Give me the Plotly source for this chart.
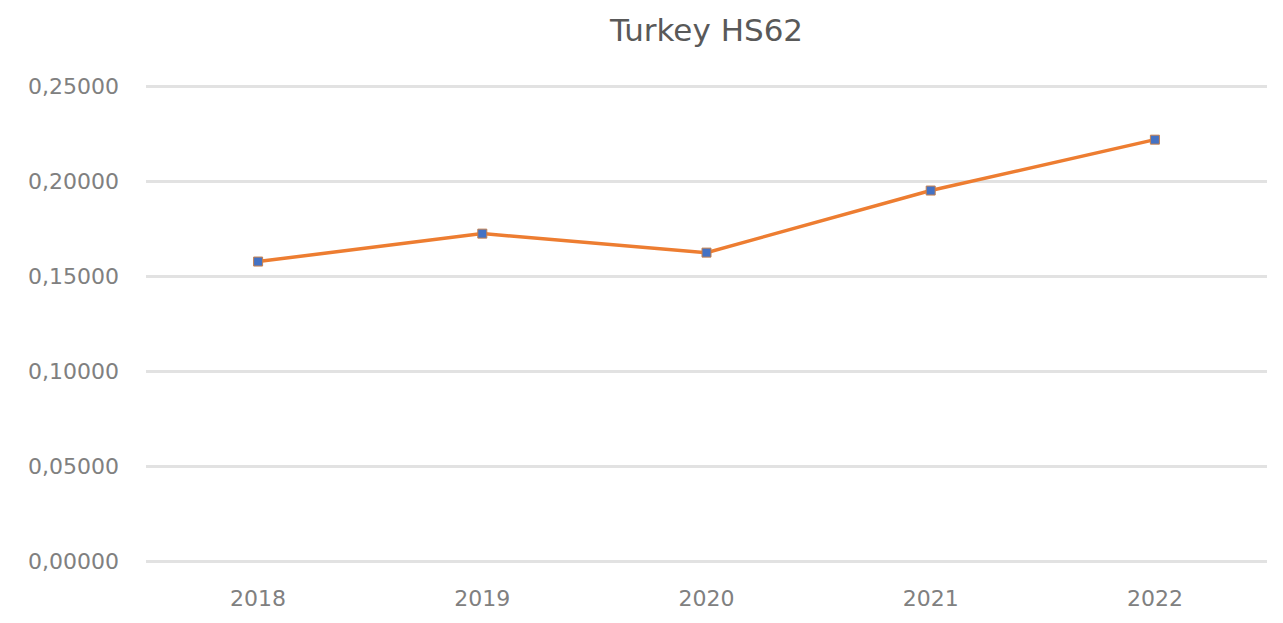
import plotly.graph_objects as go

years = ["2018", "2019", "2020", "2021", "2022"]
values = [0.1579, 0.1726, 0.1626, 0.1953, 0.2221]
y_ticks = [0, 0.05, 0.10, 0.15, 0.20, 0.25]

fig = go.Figure()
fig.add_trace(go.Scatter(
    x=years, y=values, mode="lines+markers",
    line=dict(color="#ED7D31", width=3.5),
    marker=dict(symbol="square", size=9, color="#4472C4",
                line=dict(color="#C5804F", width=1)),
    showlegend=False,
))

# page body adds an 8px offset, margins compensate for it
fig.update_layout(
    width=1283, height=623,
    margin=dict(l=138, r=24, t=73, b=64),
    plot_bgcolor="white", paper_bgcolor="white",
    separators=",.",
    title=dict(text="Turkey HS62", x=0.5, xref="paper", y=0.965, yanchor="middle",
               font=dict(family="DejaVu Sans", size=31, color="#595959")),
    font=dict(family="DejaVu Sans", color="#7f7f7f"),
)
fig.update_xaxes(
    type="category", range=[-0.5, 4.5], showgrid=False, showline=False,
    zeroline=False, tickfont=dict(size=22, color="#808080"), ticks="",
    ticklabelstandoff=16,
)
fig.update_yaxes(
    range=[-0.003, 0.253], tickvals=y_ticks, tickformat=".5f",
    showgrid=True, gridcolor="#e2e2e2", gridwidth=3, zeroline=False,
    showline=False, tickfont=dict(size=22, color="#808080"), ticklabelstandoff=26,
)

fig.write_html("out.html")
